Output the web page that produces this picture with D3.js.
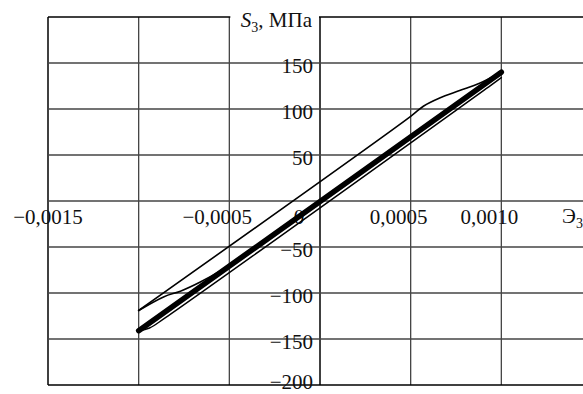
<!DOCTYPE html>
<html>
<head>
<meta charset="utf-8">
<script src="https://cdn.jsdelivr.net/npm/d3@7"></script>
<style>
  body { margin: 0; background: #fff; }
  svg { display: block; }
  text { font-family: "Liberation Serif", "Times New Roman", serif; fill: #111; }
</style>
</head>
<body>
<div id="chart"></div>
<script>
// strain ticks (Э3) and stress ticks (S3, MPa)
var xTicks = [-0.0015, -0.001, -0.0005, 0, 0.0005, 0.001, 0.0015];
var xTickLabels = ["−0,0015", "", "−0,0005", "0", "0,0005", "0,0010", ""];
var yTicks = [-200, -150, -100, -50, 0, 50, 100, 150, 200];
var yTickLabels = ["−200", "−150", "−100", "−50", "", "50", "100", "150", ""];

// [strain, stress MPa]
var firstLoading = [[-0.001, -119], [0.0005, 92], [0.00057, 103], [0.00066, 112],
                    [0.00077, 120], [0.00088, 128], [0.001, 140]];
var firstUnloading = [[-0.001, -119], [-0.00086, -104], [-0.00077, -98], [-0.00066, -88],
                      [-0.00055, -76], [-0.00045, -63]];
var stableCycle = [[-0.001, -141], [0.001, 140]];
var lastBranch = [[-0.001, -141], [-0.00094, -138], [-0.00085, -126.5], [0.00094, 125.5], [0.001, 134]];

var width = 583,
    height = 394;

var svg = d3.select("#chart").append("svg")
    .attr("width", width)
    .attr("height", height);

var x = d3.scaleLinear().domain([-0.0015, 0.0015]).range([48, 592]),
    y = d3.scaleLinear().domain([-200, 200]).range([385, 17]);

var grid = svg.append("g");

// vertical grid lines
grid.selectAll("line.vg")
  .data(xTicks)
  .enter().append("line")
  .attr("x1", d => x(d)).attr("x2", d => x(d))
  .attr("y1", y(200)).attr("y2", y(-200))
  .attr("stroke", d => (d == 0 || d == -0.0015) ? "#000" : "#444")
  .attr("stroke-width", d => (d == 0 || d == -0.0015) ? 1.5 : 1.3);

// horizontal grid lines
grid.selectAll("line.hg")
  .data(yTicks)
  .enter().append("line")
  .attr("x1", x(-0.0015)).attr("x2", x(0.0015))
  .attr("y1", d => y(d)).attr("y2", d => y(d))
  .attr("stroke", d => Math.abs(d) == 200 ? "#000" : "#444")
  .attr("stroke-width", d => Math.abs(d) == 200 ? 1.5 : 1.3);

// title sits in a gap of the top border
svg.append("rect")
  .attr("x", x(-0.0005) + 1).attr("y", y(200) - 4)
  .attr("width", x(0) - x(-0.0005) - 2).attr("height", 8)
  .attr("fill", "#fff");

var yTitle = svg.append("text")
  .attr("x", 312).attr("y", 27)
  .attr("text-anchor", "end")
  .style("font-size", "21px");
yTitle.append("tspan").style("font-style", "italic").text("S");
yTitle.append("tspan").attr("dy", 5).style("font-size", "14px").text("3");
yTitle.append("tspan").attr("dy", -5).text(", МПа");

var xTitle = svg.append("text")
  .attr("x", 562).attr("y", 223)
  .style("font-size", "21px");
xTitle.append("tspan").text("Э");
xTitle.append("tspan").attr("dy", 5).style("font-size", "14px").text("3");

// y tick labels (lowest one kept inside the picture)
svg.selectAll("text.yl")
  .data(yTicks)
  .enter().append("text")
  .attr("x", 313)
  .attr("y", d => Math.min(y(d) + 10, 389))
  .attr("text-anchor", "end")
  .style("font-size", "21px")
  .text((d, i) => yTickLabels[i]);

// x tick labels
svg.selectAll("text.xl")
  .data(xTicks)
  .enter().append("text")
  .attr("x", d => x(d) + (d == -0.0015 ? 0 : (d == 0 ? -21 : -12)))
  .attr("y", y(0) + 22.5)
  .attr("text-anchor", "middle")
  .style("font-size", "21px")
  .text((d, i) => xTickLabels[i]);

var line = d3.line()
  .x(d => x(d[0]))
  .y(d => y(d[1]))
  .curve(d3.curveCatmullRom.alpha(0.5));

var curves = svg.append("g").attr("fill", "none").attr("stroke", "#000")
  .attr("stroke-linejoin", "round").attr("stroke-linecap", "round");

curves.append("path").datum(stableCycle).attr("d", line).attr("stroke-width", 5.5);
curves.append("path").datum(lastBranch).attr("d", line).attr("stroke-width", 1.5);
curves.append("path").datum(firstLoading).attr("d", line).attr("stroke-width", 1.6);
curves.append("path").datum(firstUnloading).attr("d", line).attr("stroke-width", 1.6);
</script>
</body>
</html>
